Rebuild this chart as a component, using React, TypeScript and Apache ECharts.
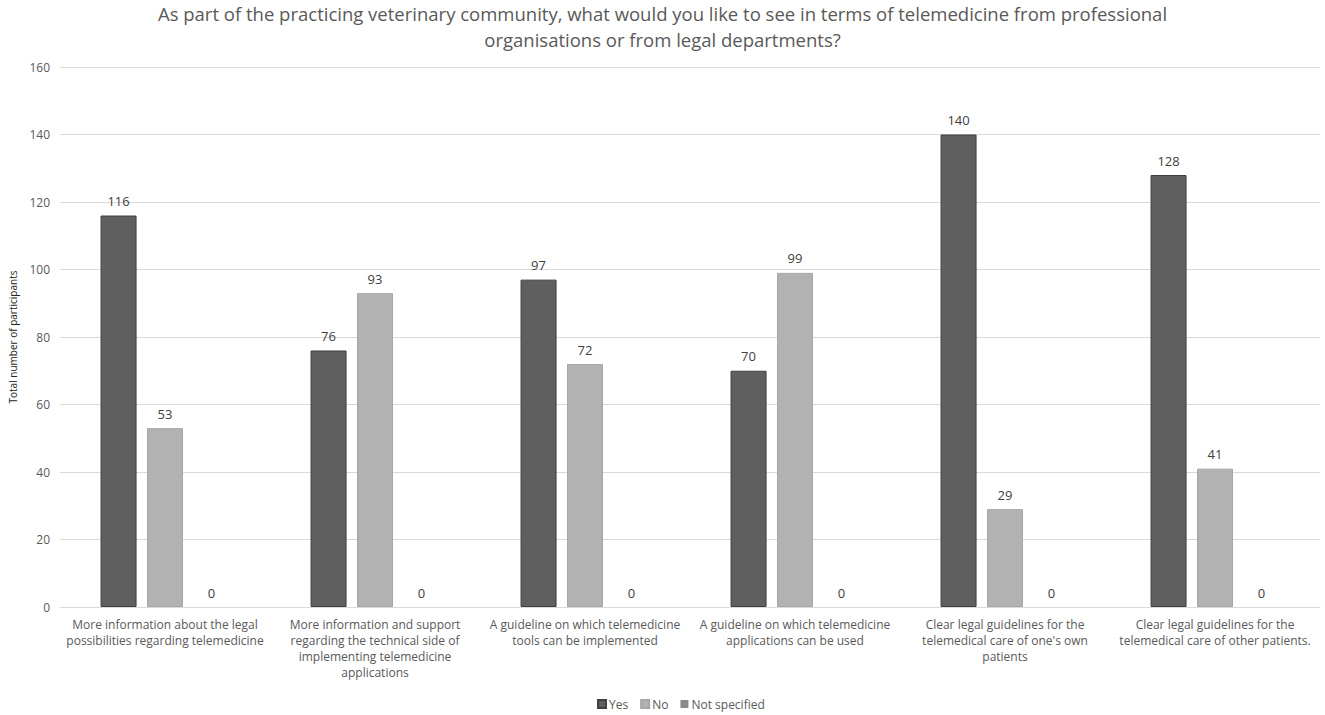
import React, { useEffect, useRef } from "react";
import * as echarts from "echarts";

const categories = [
  "More information about the legal\npossibilities regarding telemedicine",
  "More information and support\nregarding the technical side of\nimplementing telemedicine\napplications",
  "A guideline on which telemedicine\ntools can be implemented",
  "A guideline on which telemedicine\napplications can be used",
  "Clear legal guidelines for the\ntelemedical care of one's own\npatients",
  "Clear legal guidelines for the\ntelemedical care of other patients.",
];
const yesValues = [116, 76, 97, 70, 140, 128];
const noValues = [53, 93, 72, 99, 29, 41];
const notSpecifiedValues = [0, 0, 0, 0, 0, 0];
const seriesNames = ["Yes", "No", "Not specified"];

const FONT = "'Open Sans', 'Noto Sans', sans-serif";

export default function App() {
  const ref = useRef<HTMLDivElement>(null);
  useEffect(() => {
    if (!ref.current) return;
    const chart = echarts.init(ref.current, null, { renderer: "svg" });
    const label = {
      show: true,
      position: "top",
      distance: 8,
      fontSize: 13,
      color: "#404040",
      fontFamily: FONT,
    };
    chart.setOption({
      animation: false,
      backgroundColor: "#ffffff",
      title: {
        text:
          "As part of the practicing veterinary community, what would you like to see in terms of telemedicine from professional\norganisations or from legal departments?",
        left: "center",
        top: -5,
        padding: [5, 0, 5, 30],
        textStyle: {
          fontFamily: FONT,
          fontSize: 18.5,
          fontWeight: "normal",
          color: "#595959",
          lineHeight: 26,
          align: "center",
        },
      },
      legend: {
        data: seriesNames,
        top: 693,
        left: 592,
        itemWidth: 8,
        itemHeight: 8,
        itemGap: 12,
        icon: "rect",
        textStyle: { fontFamily: FONT, fontSize: 12, color: "#595959", padding: [0, 0, 0, -2] },
      },
      grid: { left: 56, right: 5, top: 67, bottom: 108, containLabel: false },
      xAxis: {
        type: "category",
        data: categories,
        axisLine: { lineStyle: { color: "#d9d9d9", width: 1 } },
        axisTick: { show: false },
        axisLabel: {
          interval: 0,
          fontFamily: FONT,
          fontSize: 12,
          color: "#595959",
          lineHeight: 16,
          margin: 9,
          align: "center",
        },
      },
      yAxis: {
        type: "value",
        min: 0,
        max: 160,
        interval: 20,
        name: "Total number of participants",
        nameLocation: "middle",
        nameGap: 42,
        nameTextStyle: { fontFamily: FONT, fontSize: 10, color: "#222222" },
        axisLine: { show: false },
        axisTick: { show: false },
        axisLabel: { fontFamily: FONT, fontSize: 12, color: "#595959", margin: 10 },
        splitLine: { lineStyle: { color: "#d9d9d9", width: 1 } },
      },
      series: [
        {
          name: seriesNames[0],
          type: "bar",
          data: yesValues,
          barWidth: 36,
          barGap: "29%",
          itemStyle: { color: "#5f5f5f", borderColor: "#3f3f3f", borderWidth: 1 },
          label,
        },
        {
          name: seriesNames[1],
          type: "bar",
          data: noValues,
          barWidth: 36,
          barGap: "29%",
          itemStyle: { color: "#b2b2b2", borderColor: "#a6a6a6", borderWidth: 1 },
          label,
        },
        {
          name: seriesNames[2],
          type: "bar",
          data: notSpecifiedValues,
          barWidth: 36,
          barGap: "29%",
          itemStyle: { color: "#8a8a8a", borderColor: "#7a7a7a", borderWidth: 0 },
          label,
        },
      ],
    });
    return () => chart.dispose();
  }, []);
  return (
    <div
      ref={ref}
      style={{ position: "absolute", left: 0, top: 0, width: 1325, height: 715 }}
    />
  );
}
